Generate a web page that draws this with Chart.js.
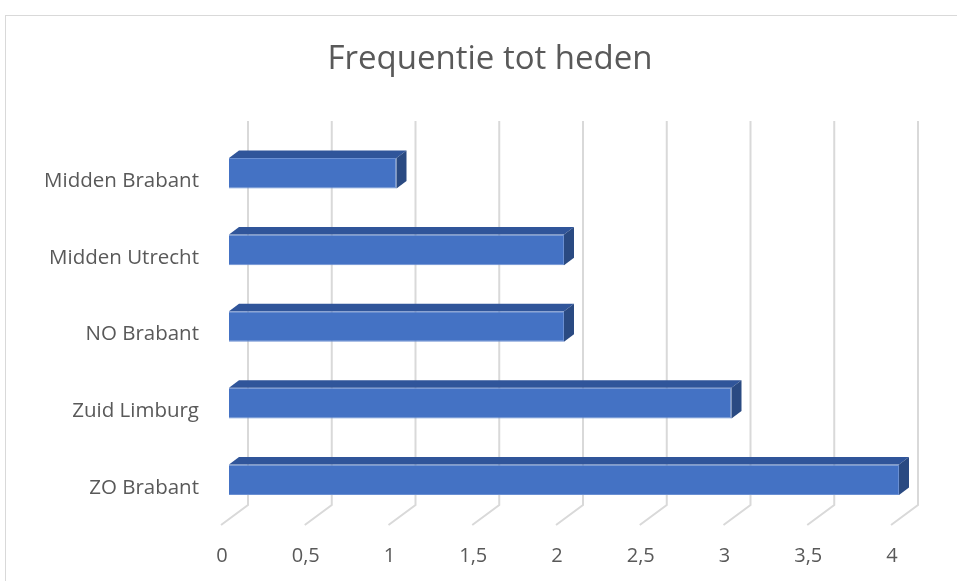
<!DOCTYPE html>
<html>
<head>
<meta charset="utf-8">
<script src="https://cdn.jsdelivr.net/npm/chart.js@4.4.1/dist/chart.umd.min.js"></script>
<style>
  html, body { margin: 0; padding: 0; background: #fff; }
</style>
</head>
<body>
<canvas id="bar3d" width="957" height="581"></canvas>
<script>
const title = "Frequentie tot heden";
const labels = ["Midden Brabant", "Midden Utrecht", "NO Brabant", "Zuid Limburg", "ZO Brabant"];
const values = [1, 2, 2, 3, 4];
const tickLabels = ["0", "0,5", "1", "1,5", "2", "2,5", "3", "3,5", "4"];

const depthX = 10, depthY = 7.5;

// frame, title and the slanted 3d gridlines behind the bars
const backdrop = {
  id: "backdrop",
  beforeDraw(chart) {
    const c = chart.ctx;
    c.save();
    c.strokeStyle = "#d9d9d9";
    c.lineWidth = 1;
    c.strokeRect(5.5, 15.5, 1200, 1200);
    c.fillStyle = "#595959";
    c.font = "33px 'Open Sans'";
    c.textAlign = "center";
    c.textBaseline = "middle";
    c.fillText(title, 490, 60);
    c.restore();
  },
  beforeDatasetsDraw(chart) {
    const c = chart.ctx;
    const xs = chart.scales.x;
    const area = chart.chartArea;
    c.save();
    c.strokeStyle = "#d9d9d9";
    c.lineWidth = 2;
    xs.ticks.forEach(t => {
      const px = xs.getPixelForValue(t.value);
      c.beginPath();
      c.moveTo(px + 19, area.top - 14);
      c.lineTo(px + 19, area.bottom - 13);
      c.lineTo(px - 8, area.bottom + 7);
      c.stroke();
    });
    c.restore();
  },
  afterDatasetsDraw(chart) {
    const c = chart.ctx;
    const meta = chart.getDatasetMeta(0);
    c.save();
    meta.data.forEach(bar => {
      const top = bar.y - bar.height / 2;
      const bot = bar.y + bar.height / 2;
      const x0 = bar.base, x1 = bar.x;
      // top face
      c.fillStyle = "#30559a";
      c.beginPath();
      c.moveTo(x0, top);
      c.lineTo(x0 + depthX, top - depthY);
      c.lineTo(x1 + depthX, top - depthY);
      c.lineTo(x1, top);
      c.closePath();
      c.fill();
      // side face
      c.fillStyle = "#2a4a82";
      c.beginPath();
      c.moveTo(x1, top);
      c.lineTo(x1 + depthX, top - depthY);
      c.lineTo(x1 + depthX, bot - depthY);
      c.lineTo(x1, bot);
      c.closePath();
      c.fill();
    });
    c.restore();
  }
};

new Chart(document.getElementById("bar3d"), {
  type: "bar",
  data: {
    labels: labels,
    datasets: [{
      data: values,
      backgroundColor: "#4472c4",
      borderColor: "#6a8fd2",
      borderWidth: 1,
      categoryPercentage: 0.4,
      barPercentage: 1
    }]
  },
  options: {
    indexAxis: "y",
    responsive: false,
    animation: false,
    layout: { padding: { left: 20, right: 58, top: 135, bottom: 0 } },
    plugins: {
      legend: { display: false },
      tooltip: { enabled: false },
      title: { display: false }
    },
    scales: {
      x: {
        min: 0,
        max: 4,
        grid: { display: false },
        border: { display: false },
        afterFit(scale) { scale.height = 63; },
        ticks: {
          stepSize: 0.5,
          color: "#595959",
          font: { family: "'Open Sans'", size: 20 },
          padding: 18,
          labelOffset: -7,
          maxRotation: 0,
          callback: (v, i) => tickLabels[i]
        }
      },
      y: {
        grid: { display: false },
        border: { display: false },
        afterFit(scale) { scale.width = 209; },
        ticks: {
          color: "#595959",
          font: { family: "'Open Sans'", size: 20.5 },
          padding: 22,
          labelOffset: 8
        }
      }
    }
  },
  plugins: [backdrop]
});
</script>
</body>
</html>
